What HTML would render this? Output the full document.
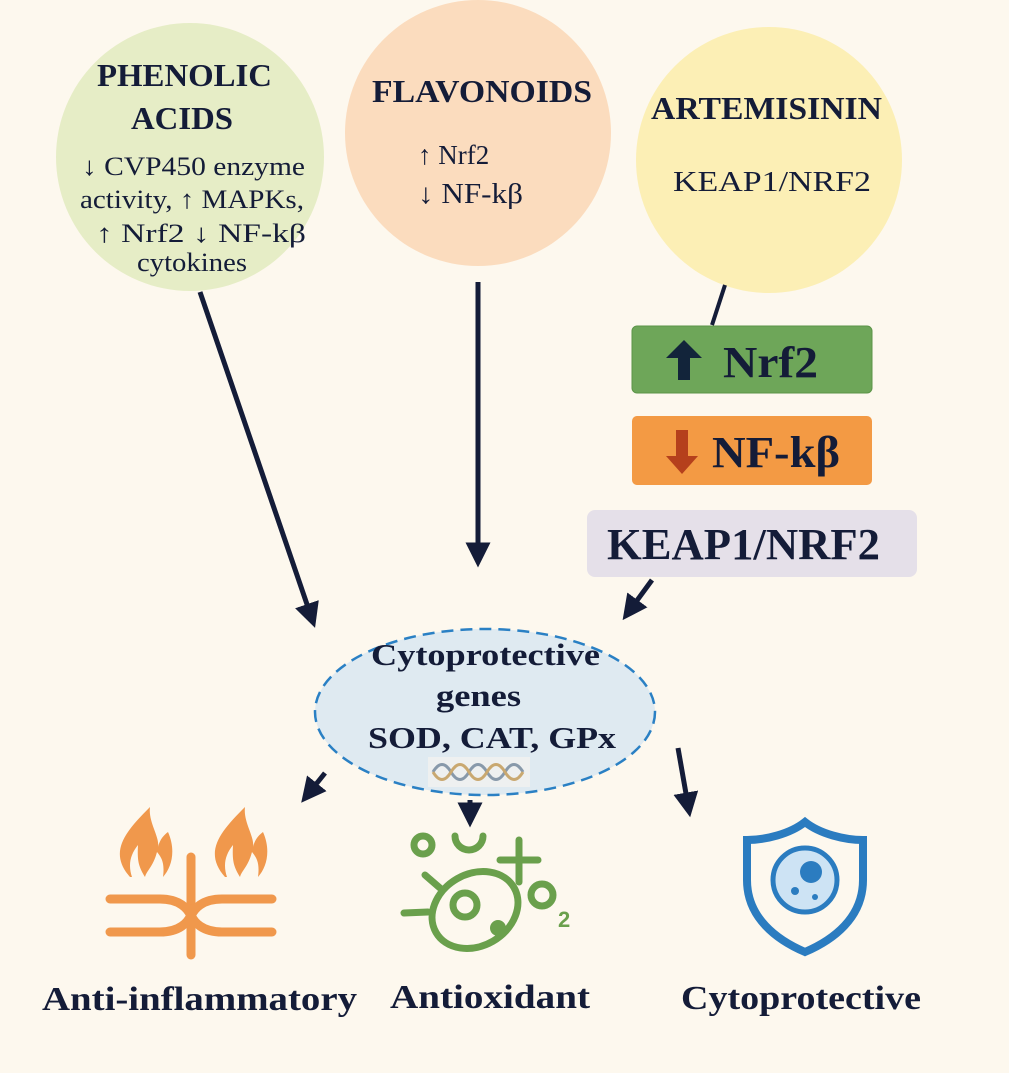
<!DOCTYPE html>
<html><head><style>
body{margin:0;background:#fdf8ee;}
svg{display:block}
text{font-family:"Liberation Serif",serif;fill:#141c38}
</style></head><body>
<svg width="1009" height="1073" viewBox="0 0 1009 1073">
<defs><marker id="a" markerWidth="5" markerHeight="5" refX="2.5" refY="2.5" orient="auto"><path d="M0,0L5,2.5L0,5z" fill="#141c38"/></marker></defs>
<rect width="1009" height="1073" fill="#fdf8ee"/>
<circle cx="190" cy="157" r="134" fill="#e6edc6"/>
<circle cx="478" cy="133" r="133" fill="#fbdcbe"/>
<circle cx="769" cy="160" r="133" fill="#fcefb5"/>
<text x="97" y="86" font-size="32" font-weight="bold" textLength="175" lengthAdjust="spacingAndGlyphs">PHENOLIC</text>
<text x="131" y="129" font-size="32" font-weight="bold" textLength="102" lengthAdjust="spacingAndGlyphs">ACIDS</text>
<text x="82" y="175" font-size="26" textLength="223" lengthAdjust="spacingAndGlyphs">↓ CVP450 enzyme</text>
<text x="80" y="208" font-size="26" textLength="224" lengthAdjust="spacingAndGlyphs">activity, ↑ MAPKs,</text>
<text x="96" y="242" font-size="26" textLength="210" lengthAdjust="spacingAndGlyphs">↑ Nrf2  ↓ NF-kβ</text>
<text x="137" y="271" font-size="26" textLength="110" lengthAdjust="spacingAndGlyphs">cytokines</text>
<text x="372" y="102" font-size="32" font-weight="bold" textLength="220" lengthAdjust="spacingAndGlyphs">FLAVONOIDS</text>
<text x="418" y="164" font-size="27">↑ Nrf2</text>
<text x="418" y="203" font-size="28" textLength="105" lengthAdjust="spacingAndGlyphs">↓ NF-kβ</text>
<text x="651" y="119" font-size="32" font-weight="bold" textLength="231" lengthAdjust="spacingAndGlyphs">ARTEMISININ</text>
<text x="673" y="191" font-size="28" textLength="198" lengthAdjust="spacingAndGlyphs">KEAP1/NRF2</text>
<line x1="725" y1="285" x2="712" y2="325" stroke="#141c38" stroke-width="4"/>
<rect x="632" y="326" width="240" height="67" rx="5" fill="#6ea659" stroke="#5c9448"/>
<path d="M684,340L702,358H690V380H678V358H666z" fill="#12243a"/>
<text x="723" y="377" font-size="44" font-weight="bold" textLength="95" lengthAdjust="spacingAndGlyphs">Nrf2</text>
<rect x="632" y="416" width="240" height="69" rx="5" fill="#f39a44"/>
<path d="M676,430H688V456H698L682,474L666,456H676z" fill="#b5401c"/>
<text x="712" y="467" font-size="44" font-weight="bold" textLength="128" lengthAdjust="spacingAndGlyphs">NF-kβ</text>
<rect x="587" y="510" width="330" height="67" rx="8" fill="#e5e0e9"/>
<text x="607" y="559" font-size="44" font-weight="bold" textLength="273" lengthAdjust="spacingAndGlyphs">KEAP1/NRF2</text>
<ellipse cx="485" cy="712" rx="170" ry="83" fill="#dfeaf1" stroke="#2a80c4" stroke-width="2.5" stroke-dasharray="12,7"/>
<text x="371" y="665" font-size="31" font-weight="bold" textLength="229" lengthAdjust="spacingAndGlyphs">Cytoprotective</text>
<text x="436" y="706" font-size="31" font-weight="bold" textLength="85" lengthAdjust="spacingAndGlyphs">genes</text>
<text x="368" y="748" font-size="31" font-weight="bold" textLength="248" lengthAdjust="spacingAndGlyphs">SOD, CAT, GPx</text>
<rect x="428" y="757" width="102" height="30" fill="#eef0f0"/>
<path d="M433,772c6,-10 12,-10 18,0s12,10 18,0s12,-10 18,0s12,10 18,0s12,-10 18,0" stroke="#8899aa" stroke-width="3" fill="none"/>
<path d="M433,772c6,10 12,10 18,0s12,-10 18,0s12,10 18,0s12,-10 18,0s12,10 18,0" stroke="#c9a870" stroke-width="3" fill="none"/>
<g stroke="#141c38" stroke-width="5" fill="none" marker-end="url(#a)">
<line x1="200" y1="292" x2="311" y2="616"/>
<line x1="478" y1="282" x2="478" y2="555"/>
<line x1="652" y1="580" x2="630" y2="610"/>
<line x1="325" y1="773" x2="309" y2="793"/>
<line x1="470" y1="800" x2="470" y2="815"/>
<line x1="678" y1="748" x2="688" y2="805"/>
</g>
<g fill="#f0984c">
<path d="M130,877c-22,-25 -5,-45 20,-70c-2,15 10,30 8,40c2,-8 6,-12 10,-15c8,18 4,35 -5,45c2,-15 -2,-20 -6,-25c-4,15 -10,18 -12,25c-6,-10 -8,-15 -7,-32c-8,10 -10,20 -6,32z"/>
<path d="M225,877c-22,-25 -5,-45 20,-70c-2,15 10,30 8,40c2,-8 6,-12 10,-15c8,18 4,35 -5,45c2,-15 -2,-20 -6,-25c-4,15 -10,18 -12,25c-6,-10 -8,-15 -7,-32c-8,10 -10,20 -6,32z"/>
</g>
<g stroke="#f0984c" stroke-width="9" stroke-linecap="round" fill="none">
<line x1="191" y1="857" x2="191" y2="955"/>
<path d="M110,899H160c20,0 28,10 31,17c3,-7 11,-17 31,-17H272"/>
<path d="M110,932H160c20,0 28,-10 31,-17c3,7 11,17 31,17H272"/>
</g>
<g stroke="#6aa04c" stroke-width="7" fill="none" stroke-linecap="round">
<circle cx="423" cy="845" r="9"/>
<path d="M455,836a14,14 0 0 0 28,0"/>
<line x1="500" y1="860" x2="538" y2="860"/><line x1="519" y1="840" x2="519" y2="882"/>
<circle cx="542" cy="895" r="11"/>
<ellipse cx="475" cy="910" rx="45" ry="36" transform="rotate(-30 475 910)"/>
<line x1="404" y1="913" x2="428" y2="912"/><line x1="425" y1="875" x2="440" y2="888"/>
<circle cx="465" cy="905" r="12"/>
</g>
<circle cx="498" cy="928" r="8" fill="#6aa04c"/>
<text x="558" y="927" font-size="22" font-weight="bold" style="fill:#6aa04c;font-family:'Liberation Sans',sans-serif">2</text>
<path d="M805,822c15,12 40,18 58,18v40c0,38 -30,60 -58,72c-28,-12 -58,-34 -58,-72v-40c18,0 43,-6 58,-18z" fill="none" stroke="#2b7cc0" stroke-width="8"/>
<circle cx="805" cy="880" r="32" fill="#cde3f4"/>
<circle cx="805" cy="880" r="32" fill="none" stroke="#2b7cc0" stroke-width="5"/>
<circle cx="811" cy="872" r="11" fill="#2b7cc0"/>
<circle cx="795" cy="891" r="4" fill="#2b7cc0"/><circle cx="815" cy="897" r="3" fill="#2b7cc0"/>
<text x="42" y="1010" font-size="34" font-weight="bold" textLength="315" lengthAdjust="spacingAndGlyphs">Anti-inflammatory</text>
<text x="390" y="1008" font-size="34" font-weight="bold" textLength="200" lengthAdjust="spacingAndGlyphs">Antioxidant</text>
<text x="681" y="1009" font-size="34" font-weight="bold" textLength="240" lengthAdjust="spacingAndGlyphs">Cytoprotective</text>
</svg>
</body></html>
